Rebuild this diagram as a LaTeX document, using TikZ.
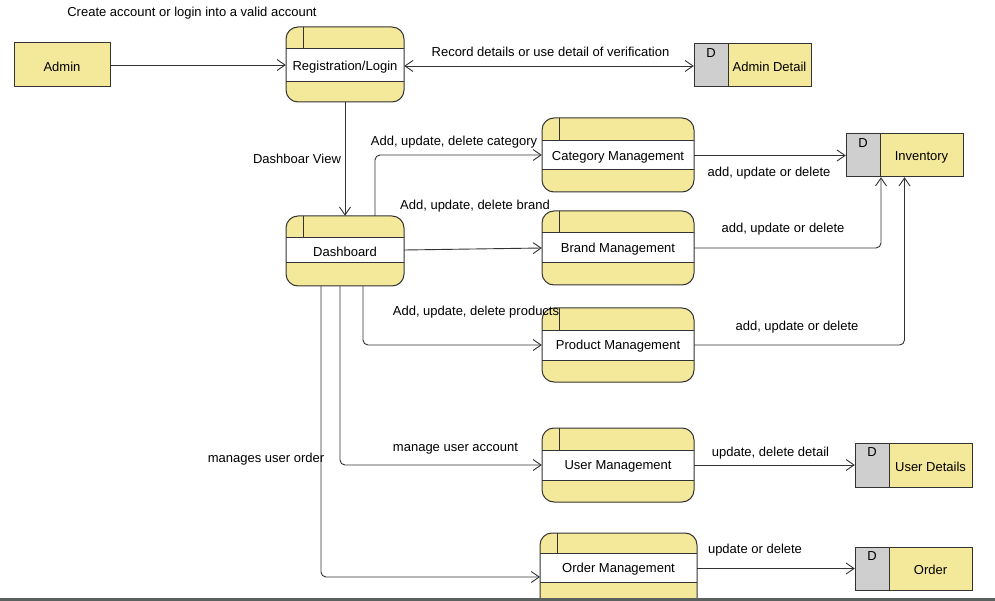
\documentclass[tikz,border=0pt]{standalone}
\usepackage{fontspec}
\setmainfont{Liberation Sans}
\usetikzlibrary{arrows.meta,calc,fit}
\definecolor{pyel}{HTML}{F4E99B}
\definecolor{pgray}{HTML}{CFCFCF}
\definecolor{pline}{HTML}{333333}
\definecolor{pband}{HTML}{5A615E}
\tikzset{
  line/.style={draw=pline, line width=1pt},
  arr/.style={draw=pline, line width=0.9pt, -{Straight Barb[length=8pt,width=11pt]}},
  darr/.style={draw=pline, line width=0.9pt, {Straight Barb[length=8pt,width=11pt]}-{Straight Barb[length=8pt,width=11pt]}},
  lbl/.style={font=\fontsize{13}{15}\selectfont, inner sep=0pt, text=black, yshift=-1.5pt},
  txt/.style={font=\fontsize{13}{15}\selectfont, inner sep=0pt, text=black, yshift=-1.5pt},
  hold/.style={inner sep=0pt, draw=none},
}
\newcommand\procbox[8]{%
  \fill[pyel, rounded corners=12pt] (#2,#3) rectangle (#4,#5);
  \fill[white] (#2,#6) rectangle (#4,#7);
  \draw[line] (#2,#6) -- (#4,#6) (#2,#7) -- (#4,#7) (#2+17,#3) -- (#2+17,#6);
  \draw[line, rounded corners=12pt] (#2,#3) rectangle (#4,#5);
  \coordinate (#1-nw) at (#2,#3);
  \coordinate (#1-se) at (#4,#5);
  \node[hold, fit=(#1-nw)(#1-se)] (#1) {};
  \node[txt] (#1-t) at ($(#2,#6)!0.5!(#4,#7)$) {#8};
}
\newcommand\storebox[6]{%
  \fill[pgray] (#2,#3) rectangle (#2+34,#5);
  \fill[pyel] (#2+34,#3) rectangle (#4,#5);
  \draw[line] (#2,#3) rectangle (#4,#5) (#2+34,#3) -- (#2+34,#5);
  \coordinate (#1-nw) at (#2,#3);
  \coordinate (#1-se) at (#4,#5);
  \node[hold, fit=(#1-nw)(#1-se)] (#1) {};
  \node[txt] (#1-d) at (#2+17,#3+8) {D};
  \node[txt] (#1-t) at ($(#2+34,#3)!0.5!(#4,#5)$) {#6};
}
\begin{document}
\begin{tikzpicture}[x=1pt,y=-1pt]
\useasboundingbox (0,0) rectangle (995,601);
\clip (0,0) rectangle (995,601);
\fill[white] (0,0) rectangle (995,601);

% external entity
\node[draw=pline, line width=1pt, fill=pyel, minimum width=96pt, minimum height=44pt, inner sep=0pt] (admin) at (62,65) {};
\node[txt] (admin-t) at (admin.center) {Admin};

% processes
\procbox{reg}{286}{27}{404}{102}{49}{82}{Registration/Login}
\procbox{dash}{286}{216}{404}{286}{238}{263}{Dashboard}
\procbox{cat}{542}{118}{694}{192}{141}{170}{Category Management}
\procbox{brand}{542}{211}{694}{285}{233}{263}{Brand Management}
\procbox{prod}{542}{308}{694}{382}{330}{360}{Product Management}
\procbox{user}{542}{428}{694}{502}{450}{480}{User Management}
\procbox{order}{540}{533}{697}{612}{553}{582}{Order Management}

% data stores
\storebox{adet}{694}{44}{811}{87}{Admin Detail}
\storebox{inv}{846}{134}{963}{177}{Inventory}
\storebox{ud}{855}{443}{972}{487}{User Details}
\storebox{ost}{855}{547}{972}{590}{Order}

% connectors
\draw[arr] (admin.east) -- (admin.east -| reg.west);
\draw[darr] (reg.east |- 0,66) -- (adet.west |- 0,66);
\draw[arr] (reg.south) -- (dash.north);
\draw[arr, rounded corners=5pt] ([xshift=30pt]dash.north) |- (cat.west);
\draw[arr] (dash.east |- 0,250) -- (brand.west);
\draw[arr, rounded corners=5pt] ([xshift=18pt]dash.south) |- (prod.west);
\draw[arr, rounded corners=5pt] ([xshift=-5pt]dash.south) |- (user.west);
\coordinate (oin) at (540,577);
\draw[arr, rounded corners=5pt] ([xshift=-24pt]dash.south) |- (oin);
\draw[arr] (cat.east |- inv.west) -- (inv.west);
\draw[arr, rounded corners=5pt] (brand.east |- 0,248) -| ([xshift=-23.5pt]inv.south);
\draw[arr, rounded corners=5pt] (prod.east |- 0,345) -| (inv.south);
\draw[arr] (user.east |- ud.west) -- (ud.west);
\draw[arr] (ost.west -| order.east) -- (ost.west);

% labels
\node[lbl] (l1) at (192,12) {Create account or login into a valid account};
\node[lbl] (l2) at (550.5,50) {Record details or use detail of verification};
\node[lbl] (l3) at (297,157) {Dashboar View};
\node[lbl] (l4) at (454,141) {Add, update, delete category};
\node[lbl] (l5) at (475,205) {Add, update, delete brand};
\node[lbl] (l6) at (476,311) {Add, update, delete products};
\node[lbl] (l7) at (455.5,447) {manage user account};
\node[lbl] (l8) at (266,458) {manages user order};
\node[lbl] (l9) at (769,172) {add, update or delete};
\node[lbl] (l10) at (783,228) {add, update or delete};
\node[lbl] (l11) at (797,326) {add, update or delete};
\node[lbl] (l12) at (770.5,452) {update, delete detail};
\node[lbl] (l13) at (755,549) {update or delete};

% bottom band
\fill[pband] (0,597.5) rectangle (995,601);
\end{tikzpicture}
\end{document}
